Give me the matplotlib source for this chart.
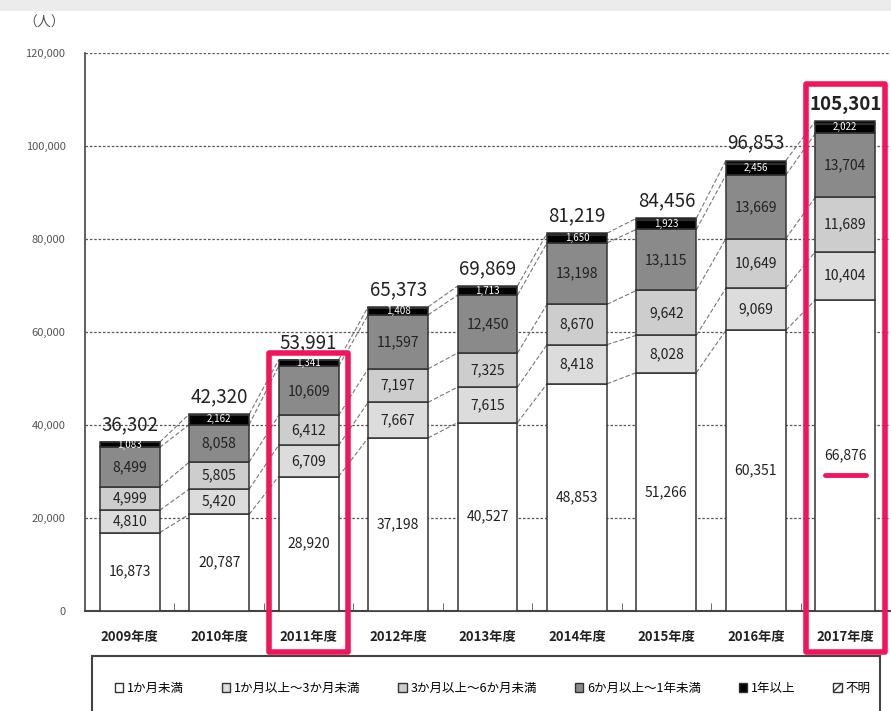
import numpy as np
import matplotlib
matplotlib.use("Agg")
import matplotlib.pyplot as plt
from matplotlib.patches import Patch, Rectangle

plt.rcParams['font.family'] = ['Noto Sans CJK JP', 'DejaVu Sans']

# ---------- data ----------
years = ["2009年度", "2010年度", "2011年度", "2012年度", "2013年度",
         "2014年度", "2015年度", "2016年度", "2017年度"]
under_1m = [16873, 20787, 28920, 37198, 40527, 48853, 51266, 60351, 66876]
m1_3 = [4810, 5420, 6709, 7667, 7615, 8418, 8028, 9069, 10404]
m3_6 = [4999, 5805, 6412, 7197, 7325, 8670, 9642, 10649, 11689]
m6_y1 = [8499, 8058, 10609, 11597, 12450, 13198, 13115, 13669, 13704]
over_1y = [1083, 2162, 1341, 1408, 1713, 1650, 1923, 2456, 2022]
totals = [36302, 42320, 53991, 65373, 69869, 81219, 84456, 96853, 105301]
unknown = [t - a - b - c - d - e for t, a, b, c, d, e in
           zip(totals, under_1m, m1_3, m3_6, m6_y1, over_1y)]

series = [under_1m, m1_3, m3_6, m6_y1, over_1y, unknown]
names = ["1か月未満", "1か月以上～3か月未満", "3か月以上～6か月未満",
         "6か月以上～1年未満", "1年以上", "不明"]
colors = ["#ffffff", "#dcdcdc", "#cdcdcd", "#8a8a8a", "#000000", "#ffffff"]
bar_colors = ["#ffffff", "#dcdcdc", "#cdcdcd", "#8a8a8a", "#000000", "#0a0a0a"]
hatches = [None, None, None, None, None, "////"]
yticks = [0, 20000, 40000, 60000, 80000, 100000, 120000]

# highlighted years (annotation boxes)
highlight = {"2011年度": 55500, "2017年度": 113300}
RED = "#f2155c"

# ---------- figure ----------
fig = plt.figure(figsize=(8.91, 7.11), dpi=100)
fig.patches.append(Rectangle((0, 0.985), 1, 0.015, transform=fig.transFigure,
                             facecolor="#ececec", edgecolor="none"))
ax = fig.add_axes([0.0954, 0.1406, 0.9035, 0.785])

x = np.arange(len(years))
w = 0.67
bottom = np.zeros(len(years))
bounds = []
for vals, col in zip(series, bar_colors):
    vals = np.array(vals, dtype=float)
    ax.bar(x, vals, w, bottom=bottom, color=col, edgecolor="#333333",
           linewidth=1.1, zorder=3)
    bottom = bottom + vals
    bounds.append(bottom.copy())

# connector lines between bars
for b in bounds[:4] + [bounds[5]]:
    for i in range(len(years) - 1):
        ax.plot([x[i] + w / 2, x[i + 1] - w / 2], [b[i], b[i + 1]],
                color="#777777", lw=0.8, ls=(0, (4, 2)), zorder=2)

# segment labels
base = np.zeros(len(years))
for k, vals in enumerate(series[:5]):
    for i, v in enumerate(vals):
        y = base[i] + v / 2
        if k == 4:
            ax.text(x[i], y + unknown[i] / 2, f"{v:,}", ha="center",
                    va="center", fontsize=7, color="white", zorder=5)
        else:
            ax.text(x[i], y, f"{v:,}", ha="center", va="center",
                    fontsize=10, color="#222222", zorder=5)
    base = base + np.array(vals)

# totals
for i, t in enumerate(totals):
    ax.text(x[i], t + 1500, f"{t:,}", ha="center", va="bottom",
            fontsize=13.5, color="#222222",
            fontweight="bold" if i == len(years) - 1 else "normal", zorder=5)

ax.set_xlim(-0.5, len(years) - 0.5)
ax.set_ylim(0, 120000)
ax.set_yticks(yticks)
ax.set_yticklabels([f"{v:,}" for v in yticks], fontsize=8, color="#555555")
ax.tick_params(axis="y", length=0, pad=14)
ax.set_xticks(x)
ax.set_xticklabels(years, fontsize=9.5, fontweight="bold", color="#222222")
ax.tick_params(axis="x", length=0, pad=14)
ax.set_xticks(x[:-1] + 0.5, minor=True)
ax.tick_params(axis="x", which="minor", direction="in", length=6,
               color="#555555")
ax.grid(axis="y", color="#555555", lw=0.9, ls=(0, (2, 1.5)), zorder=0)
for s in ["top", "right"]:
    ax.spines[s].set_visible(False)
ax.spines["left"].set_color("#444444")
ax.spines["left"].set_linewidth(1.2)
ax.spines["bottom"].set_color("#444444")
ax.spines["bottom"].set_linewidth(1.5)

fig.text(0.05, 0.968, "（人）", fontsize=10, color="#555555",
         ha="center", va="center")

# red highlight boxes
for yr, top in highlight.items():
    i = years.index(yr)
    r = Rectangle((x[i] - 0.44, -8800), 0.88, top + 8800, fill=False,
                  edgecolor=RED, lw=4, joinstyle="round", clip_on=False,
                  zorder=6)
    ax.add_patch(r)
i = years.index("2017年度")
ax.plot([x[i] - 0.23, x[i] + 0.23], [under_1m[i] / 2 - 4100] * 2,
        color=RED, lw=3.5, solid_capstyle="round", zorder=6)

# legend box
fig.patches.append(Rectangle((92 / 891, -0.01), 788 / 891, 0.088,
                             transform=fig.transFigure, fill=False,
                             edgecolor="#444444", lw=1.5))
handles = [Patch(facecolor=c, edgecolor="#333333", hatch=h, label=n)
           for c, h, n in zip(colors, hatches, names)]
fig.legend(handles=handles, loc="center", bbox_to_anchor=(0.553, 0.032),
           ncol=6, frameon=False, fontsize=9, handlelength=0.7,
           handleheight=0.7, handletextpad=0.3, columnspacing=3.0)

fig.savefig("out.png", dpi=100)
